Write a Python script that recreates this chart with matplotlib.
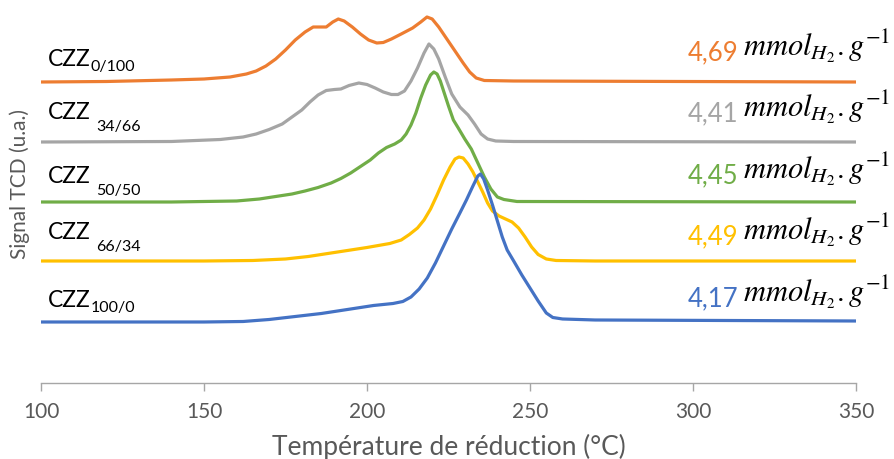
import matplotlib
matplotlib.use('Agg')
import matplotlib.pyplot as plt

plt.rcParams['font.family'] = ['Lato', 'DejaVu Sans']
plt.rcParams['mathtext.fontset'] = 'stix'

# TPR profiles, signal TCD in u.a. (curves already offset)
t_0_100 = [100, 120, 140, 150, 158, 163, 166, 169, 172, 175, 178, 181, 183.5, 185.5, 187.5, 189.5,
           191.2, 193, 195.5, 198, 200.5, 203, 205, 207.5, 210.5, 214, 216.5, 218.4, 220, 222,
           224.5, 227, 229.5, 231.5, 233.5, 236, 245, 350]
s_0_100 = [30.1, 30.15, 30.3, 30.4, 30.6, 30.9, 31.2, 31.7, 32.4, 33.3, 34.3, 35.1, 35.6, 35.6, 35.6, 36.1,
           36.4, 36.2, 35.6, 34.9, 34.3, 34.0, 34.05, 34.4, 34.9, 35.5, 36.1, 36.6, 36.4, 35.6,
           34.4, 33.2, 32.0, 31.1, 30.5, 30.25, 30.2, 30.1]

t_34_66 = [100, 140, 155, 162, 166, 170, 174, 177, 180, 182.5, 185, 187.5, 190, 192, 194.5, 197.5,
           200, 202.5, 205, 207.5, 209.5, 211.5, 213.5, 215.5, 217.5, 219, 220.5, 222, 224, 226,
           228.5, 231, 233, 235, 237, 239.5, 245, 350]
s_34_66 = [24.1, 24.15, 24.35, 24.6, 24.9, 25.35, 25.9, 26.6, 27.3, 28.1, 28.8, 29.25, 29.35, 29.4, 29.75, 30.0,
           29.85, 29.5, 29.1, 28.85, 28.85, 29.2, 30.2, 31.5, 33.0, 33.9, 33.4, 32.4, 30.6, 28.9,
           27.6, 26.8, 25.9, 24.9, 24.4, 24.2, 24.15, 24.1]

t_50_50 = [100, 140, 160, 167, 172, 177, 181, 185, 189, 192, 195, 198, 201, 203.5, 206, 208.5,
           210.5, 212, 213.5, 215, 216.5, 218, 219.5, 220.5, 221.5, 222.5, 223.5, 225, 226.5,
           228, 230, 232, 234, 236, 238, 240, 242, 246, 350]
s_50_50 = [18.1, 18.1, 18.2, 18.4, 18.65, 18.9, 19.2, 19.55, 20.0, 20.45, 21.0, 21.65, 22.3, 23.0, 23.55, 23.9,
           24.3, 24.9, 25.8, 27.0, 28.5, 29.8, 30.8, 31.1, 30.9, 30.2, 29.2, 27.7, 26.3,
           25.5, 24.4, 23.4, 22.0, 20.6, 19.4, 18.6, 18.35, 18.15, 18.1]

t_66_34 = [100, 150, 165, 175, 182, 190, 200, 207, 210.5, 213, 215.5, 217.5, 219.5, 221.5, 223.5,
           225.5, 227, 228.2, 229.5, 231, 232.5, 234, 235.5, 237, 238.5, 240.5, 242.5, 244.5,
           246.5, 248.5, 250.5, 252.5, 255, 258, 270, 350]
s_66_34 = [12.2, 12.2, 12.25, 12.4, 12.65, 13.05, 13.55, 13.95, 14.3, 14.85, 15.5, 16.3, 17.4, 18.8, 20.3,
           21.6, 22.4, 22.6, 22.5, 21.9, 21.1, 20.1, 19.1, 18.0, 17.2, 16.7, 16.4, 16.1,
           15.5, 14.6, 13.6, 12.85, 12.4, 12.25, 12.2, 12.2]

t_100_0 = [100, 150, 162, 170, 178, 186, 194, 202, 208, 211, 213.5, 216, 218.5, 221, 223.5, 226,
           228.5, 230.5, 232.5, 234, 234.8, 235.8, 237, 238.5, 240, 241.5, 243, 245, 247.5, 250,
           252.5, 255, 257, 260, 270, 350]
s_100_0 = [6.1, 6.1, 6.15, 6.35, 6.65, 6.95, 7.35, 7.75, 7.95, 8.15, 8.6, 9.4, 10.5, 12.0, 13.7, 15.4,
           17.0, 18.3, 19.7, 20.7, 20.9, 20.4, 19.3, 17.8, 16.2, 14.6, 13.3, 12.2, 10.8, 9.5,
           8.2, 7.0, 6.55, 6.4, 6.3, 6.2]

samples = ['0/100', '34/66', '50/50', '66/34', '100/0']
h2_uptake = ['4,69', '4,41', '4,45', '4,49', '4,17']
colors = ['#ED7D31', '#A5A5A5', '#70AD47', '#FFC000', '#4472C4']
curves = [(t_0_100, s_0_100), (t_34_66, s_34_66), (t_50_50, s_50_50),
          (t_66_34, s_66_34), (t_100_0, s_100_0)]

# label baselines (u.a.) and subscript gap / drop in points
left_y = [31.7, 26.4, 20.0, 14.4, 7.6]
sub_style = [(0, -3), (4, -8), (4, -8), (4, -8), (0, -3)]
right_y = [32.7, 26.6, 20.4, 14.3, 8.1]

fig = plt.figure(figsize=(8.95, 4.59), dpi=100)
ax = fig.add_axes([0.0458, 0.1656, 0.9106, 0.8344])

for (t, s), c in zip(curves, colors):
    ax.plot(t, s, color=c, lw=2.3, solid_joinstyle='round')

for name, y, (gap, drop) in zip(samples, left_y, sub_style):
    txt = ax.text(102.1, y, 'CZZ', fontsize=16.5, color='black', va='baseline', ha='left')
    ax.annotate(name, xy=(1, 0), xycoords=txt, xytext=(gap, drop), textcoords='offset points',
                fontsize=11.5, color='black', va='bottom', ha='left')

for val, y, c in zip(h2_uptake, right_y, colors):
    mt = ax.text(360.4, y, r'$mmol_{H_2}.g^{-1}$', fontsize=22, color='black',
                 va='baseline', ha='right', clip_on=False)
    ax.annotate(val, xy=(0, 0), xycoords=mt, xytext=(-3, 0), textcoords='offset points',
                fontsize=18.5, color=c, va='bottom', ha='right')

ax.set_xlim(100, 350)
ax.set_ylim(0, 38.3)
ax.set_xticks([100, 150, 200, 250, 300, 350])
ax.set_yticks([])
for side in ['top', 'right', 'left']:
    ax.spines[side].set_visible(False)
ax.spines['bottom'].set_color('#A6A6A6')
ax.spines['bottom'].set_linewidth(1)
ax.tick_params(axis='x', direction='out', length=6, width=1, color='#A6A6A6',
               labelsize=15, labelcolor='#595959', pad=8)
ax.set_xlabel('Température de réduction (°C)', fontsize=19, color='#595959', labelpad=8)
ax.set_ylabel('Signal TCD (u.a.)', fontsize=15, color='#595959')
ax.yaxis.set_label_coords(-0.014, 0.52)

fig.savefig('out.png', dpi=100)
